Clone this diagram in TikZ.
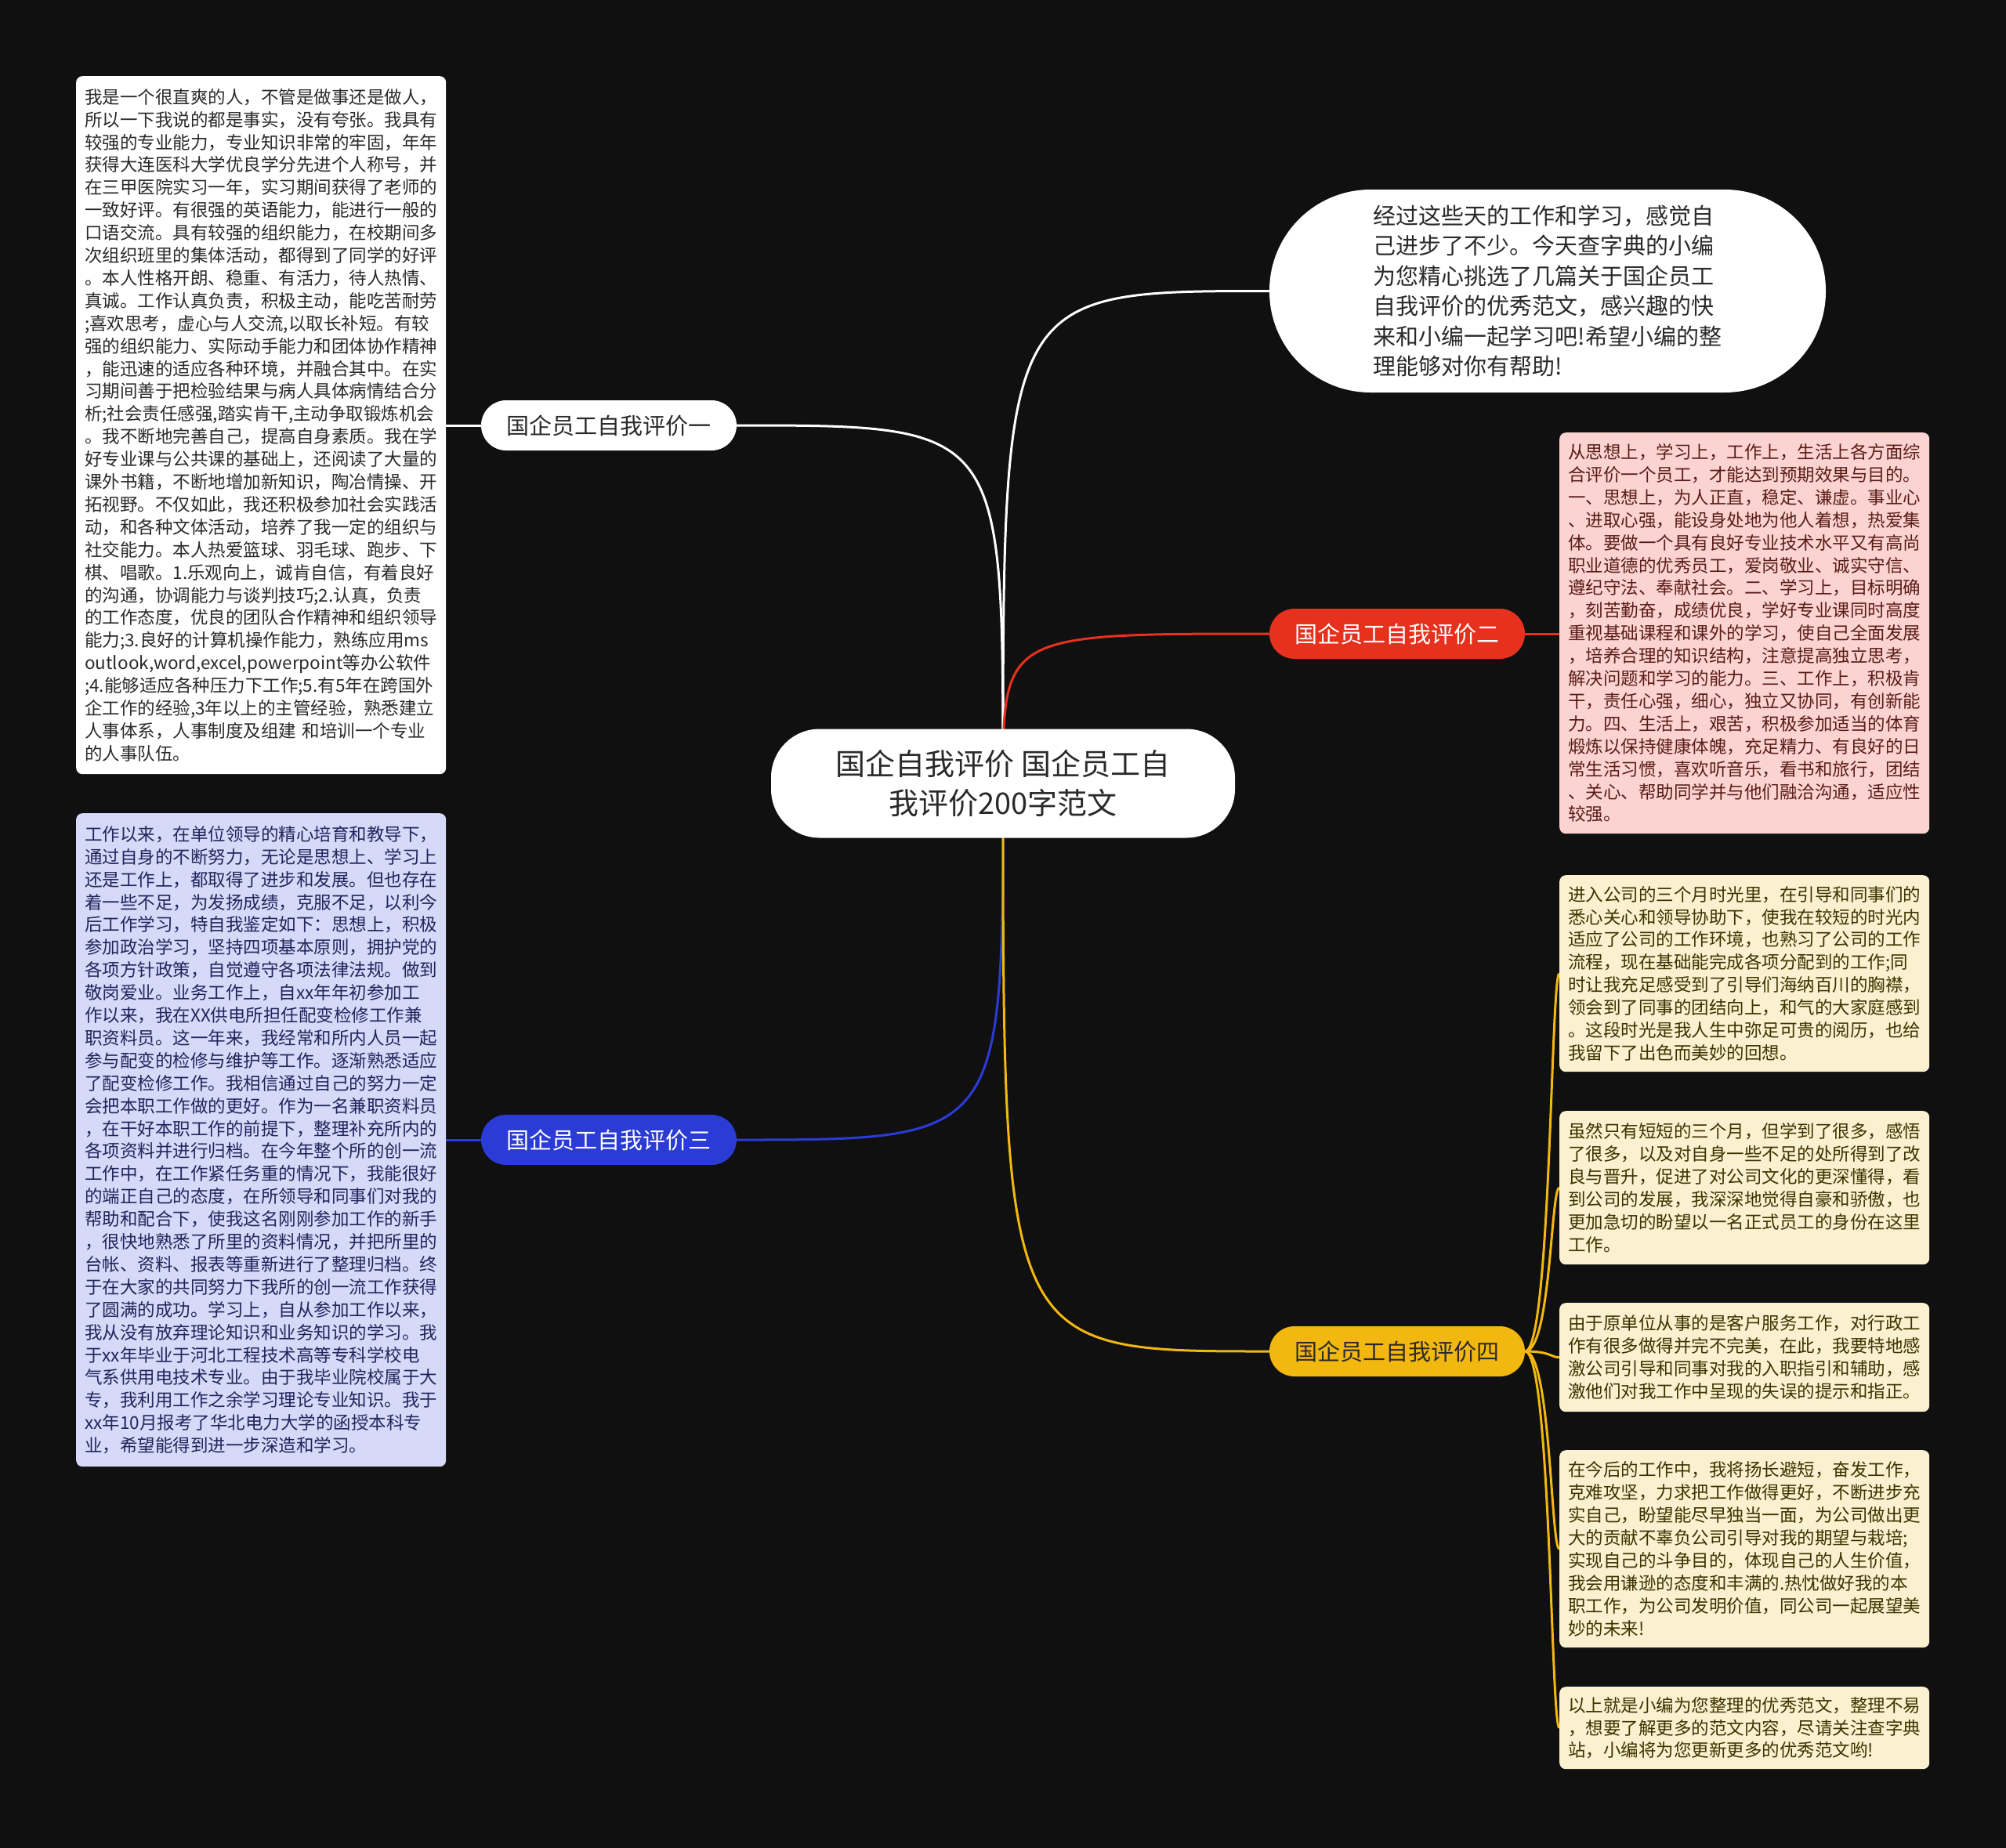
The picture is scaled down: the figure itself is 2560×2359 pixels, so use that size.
\documentclass[tikz,border=0pt]{standalone}
\usepackage{fontspec}
\setmainfont{Noto Sans CJK SC}
\usetikzlibrary{calc}
\definecolor{bgc}{HTML}{101010}
\definecolor{redl}{HTML}{E6311F}
\definecolor{bluel}{HTML}{2B3BD6}
\definecolor{yell}{HTML}{F2B80F}
\definecolor{lav}{HTML}{D6D9F8}
\definecolor{lavtxt}{HTML}{20265C}
\definecolor{pink}{HTML}{FBD4D2}
\definecolor{pinktxt}{HTML}{5A1C18}
\definecolor{cream}{HTML}{FBF0CF}
\definecolor{creamtxt}{HTML}{3B3300}
\definecolor{dtxt}{HTML}{2A2A2A}
\pgfdeclarelayer{bg}
\pgfsetlayers{bg,main}
\begin{document}
\begin{tikzpicture}[x=1pt,y=-1pt,
  txtbox/.style={rounded corners=8pt, inner xsep=11pt, inner ysep=0pt, text width=450pt,
    align=left, anchor=north west,
    font=\setlength\parindent{0pt}\fontsize{22.5pt}{28.9pt}\selectfont},
  lab/.style={rounded corners=32pt, minimum width=326pt, minimum height=64pt, inner sep=0pt,
    font=\fontsize{29pt}{35pt}\selectfont},
  wline/.style={draw=white, line width=3pt},
  rline/.style={draw=redl, line width=3pt},
  bline/.style={draw=bluel, line width=3pt},
  yline/.style={draw=yell, line width=3pt}]
\useasboundingbox (0,0) rectangle (2560,2359);
\begin{pgfonlayer}{bg}
\fill[bgc] (0,0) rectangle (2560,2359);
\end{pgfonlayer}

% center
\node[fill=white, rounded corners=62pt, minimum width=592pt, minimum height=139pt, inner sep=0pt,
  align=center, text=dtxt, font=\fontsize{38pt}{50pt}\selectfont] (c) at (1280,1000)
  {国企自我评价 国企员工自\\我评价200字范文};

% intro bubble
\node[fill=white, rounded corners=129pt, minimum width=710pt, minimum height=259pt, inner sep=0pt,
  align=left, text=dtxt, font=\fontsize{29pt}{38.5pt}\selectfont] (t) at (1975,371.5)
  {经过这些天的工作和学习，感觉自\\己进步了不少。今天查字典的小编\\为您精心挑选了几篇关于国企员工\\自我评价的优秀范文，感兴趣的快\\来和小编一起学习吧!希望小编的整\\理能够对你有帮助!};

% labels
\node[lab, fill=white, text=dtxt] (l1) at (777,543) {国企员工自我评价一};
\node[lab, fill=redl, text=white] (l2) at (1783,809) {国企员工自我评价二};
\node[lab, fill=bluel, text=white] (l3) at (777,1455) {国企员工自我评价三};
\node[lab, fill=yell, text=dtxt] (l4) at (1783,1725) {国企员工自我评价四};

% left boxes
\node[txtbox, fill=white, text=dtxt, minimum height=891pt] (la) at (97,97)
{我是一个很直爽的人，不管是做事还是做人，\\
所以一下我说的都是事实，没有夸张。我具有\\
较强的专业能力，专业知识非常的牢固，年年\\
获得大连医科大学优良学分先进个人称号，并\\
在三甲医院实习一年，实习期间获得了老师的\\
一致好评。有很强的英语能力，能进行一般的\\
口语交流。具有较强的组织能力，在校期间多\\
次组织班里的集体活动，都得到了同学的好评\\
。本人性格开朗、稳重、有活力，待人热情、\\
真诚。工作认真负责，积极主动，能吃苦耐劳\\
;喜欢思考，虚心与人交流,以取长补短。有较\\
强的组织能力、实际动手能力和团体协作精神\\
，能迅速的适应各种环境，并融合其中。在实\\
习期间善于把检验结果与病人具体病情结合分\\
析;社会责任感强,踏实肯干,主动争取锻炼机会\\
。我不断地完善自己，提高自身素质。我在学\\
好专业课与公共课的基础上，还阅读了大量的\\
课外书籍，不断地增加新知识，陶冶情操、开\\
拓视野。不仅如此，我还积极参加社会实践活\\
动，和各种文体活动，培养了我一定的组织与\\
社交能力。本人热爱篮球、羽毛球、跑步、下\\
棋、唱歌。1.乐观向上，诚肯自信，有着良好\\
的沟通，协调能力与谈判技巧;2.认真，负责\\
的工作态度，优良的团队合作精神和组织领导\\
能力;3.良好的计算机操作能力，熟练应用ms\\
outlook,word,excel,powerpoint等办公软件\\
;4.能够适应各种压力下工作;5.有5年在跨国外\\
企工作的经验,3年以上的主管经验，熟悉建立\\
人事体系，人事制度及组建 和培训一个专业\\
的人事队伍。};

\node[txtbox, fill=lav, text=lavtxt, minimum height=834pt] (lb) at (97,1038)
{工作以来，在单位领导的精心培育和教导下，\\
通过自身的不断努力，无论是思想上、学习上\\
还是工作上，都取得了进步和发展。但也存在\\
着一些不足，为发扬成绩，克服不足，以利今\\
后工作学习，特自我鉴定如下：思想上，积极\\
参加政治学习，坚持四项基本原则，拥护党的\\
各项方针政策，自觉遵守各项法律法规。做到\\
敬岗爱业。业务工作上，自xx年年初参加工\\
作以来，我在XX供电所担任配变检修工作兼\\
职资料员。这一年来，我经常和所内人员一起\\
参与配变的检修与维护等工作。逐渐熟悉适应\\
了配变检修工作。我相信通过自己的努力一定\\
会把本职工作做的更好。作为一名兼职资料员\\
，在干好本职工作的前提下，整理补充所内的\\
各项资料并进行归档。在今年整个所的创一流\\
工作中，在工作紧任务重的情况下，我能很好\\
的端正自己的态度，在所领导和同事们对我的\\
帮助和配合下，使我这名刚刚参加工作的新手\\
，很快地熟悉了所里的资料情况，并把所里的\\
台帐、资料、报表等重新进行了整理归档。终\\
于在大家的共同努力下我所的创一流工作获得\\
了圆满的成功。学习上，自从参加工作以来，\\
我从没有放弃理论知识和业务知识的学习。我\\
于xx年毕业于河北工程技术高等专科学校电\\
气系供用电技术专业。由于我毕业院校属于大\\
专，我利用工作之余学习理论专业知识。我于\\
xx年10月报考了华北电力大学的函授本科专\\
业，希望能得到进一步深造和学习。};

% right boxes
\node[txtbox, fill=pink, text=pinktxt, minimum height=512pt] (r1) at (1990,552)
{从思想上，学习上，工作上，生活上各方面综\\
合评价一个员工，才能达到预期效果与目的。\\
一、思想上，为人正直，稳定、谦虚。事业心\\
、进取心强，能设身处地为他人着想，热爱集\\
体。要做一个具有良好专业技术水平又有高尚\\
职业道德的优秀员工，爱岗敬业、诚实守信、\\
遵纪守法、奉献社会。二、学习上，目标明确\\
，刻苦勤奋，成绩优良，学好专业课同时高度\\
重视基础课程和课外的学习，使自己全面发展\\
，培养合理的知识结构，注意提高独立思考，\\
解决问题和学习的能力。三、工作上，积极肯\\
干，责任心强，细心，独立又协同，有创新能\\
力。四、生活上，艰苦，积极参加适当的体育\\
煅炼以保持健康体魄，充足精力、有良好的日\\
常生活习惯，喜欢听音乐，看书和旅行，团结\\
、关心、帮助同学并与他们融洽沟通，适应性\\
较强。};

\node[txtbox, fill=cream, text=creamtxt, minimum height=251pt] (y1) at (1990,1117)
{进入公司的三个月时光里，在引导和同事们的\\
悉心关心和领导协助下，使我在较短的时光内\\
适应了公司的工作环境，也熟习了公司的工作\\
流程，现在基础能完成各项分配到的工作;同\\
时让我充足感受到了引导们海纳百川的胸襟，\\
领会到了同事的团结向上，和气的大家庭感到\\
。这段时光是我人生中弥足可贵的阅历，也给\\
我留下了出色而美妙的回想。};

\node[txtbox, fill=cream, text=creamtxt, minimum height=196pt] (y2) at (1990,1418)
{虽然只有短短的三个月，但学到了很多，感悟\\
了很多，以及对自身一些不足的处所得到了改\\
良与晋升，促进了对公司文化的更深懂得，看\\
到公司的发展，我深深地觉得自豪和骄傲，也\\
更加急切的盼望以一名正式员工的身份在这里\\
工作。};

\node[txtbox, fill=cream, text=creamtxt, minimum height=139pt] (y3) at (1990,1663)
{由于原单位从事的是客户服务工作，对行政工\\
作有很多做得并完不完美，在此，我要特地感\\
激公司引导和同事对我的入职指引和辅助，感\\
激他们对我工作中呈现的失误的提示和指正。};

\node[txtbox, fill=cream, text=creamtxt, minimum height=252pt] (y4) at (1990,1851)
{在今后的工作中，我将扬长避短，奋发工作，\\
克难攻坚，力求把工作做得更好，不断进步充\\
实自己，盼望能尽早独当一面，为公司做出更\\
大的贡献不辜负公司引导对我的期望与栽培;\\
实现自己的斗争目的，体现自己的人生价值，\\
我会用谦逊的态度和丰满的.热忱做好我的本\\
职工作，为公司发明价值，同公司一起展望美\\
妙的未来!};

\node[txtbox, fill=cream, text=creamtxt, minimum height=105pt] (y5) at (1990,2153)
{以上就是小编为您整理的优秀范文，整理不易\\
，想要了解更多的范文内容，尽请关注查字典\\
站，小编将为您更新更多的优秀范文哟!};

% connectors
\begin{pgfonlayer}{bg}
\draw[wline] (c.center) .. controls (c.center |- t.west) .. (t.west);
\draw[wline] (c.center) .. controls (c.center |- l1.east) .. (l1.east);
\draw[rline] (c.center) .. controls (c.center |- l2.west) .. (l2.west);
\draw[bline] (c.center) .. controls (c.center |- l3.east) .. (l3.east);
\draw[yline] (c.center) .. controls (c.center |- l4.west) .. (l4.west);
\draw[wline] (l1.west) -- (l1.west -| la.east);
\draw[bline] (l3.west) -- (l3.west -| lb.east);
\draw[rline] (l2.east) -- (l2.east -| r1.west);
\foreach \b in {y1,y2,y3,y4,y5}{
  \draw[yline] (l4.east) .. controls ([xshift=33pt]l4.east) and ([xshift=-11pt]\b.west) .. (\b.west);
}
\end{pgfonlayer}
\end{tikzpicture}
\end{document}
